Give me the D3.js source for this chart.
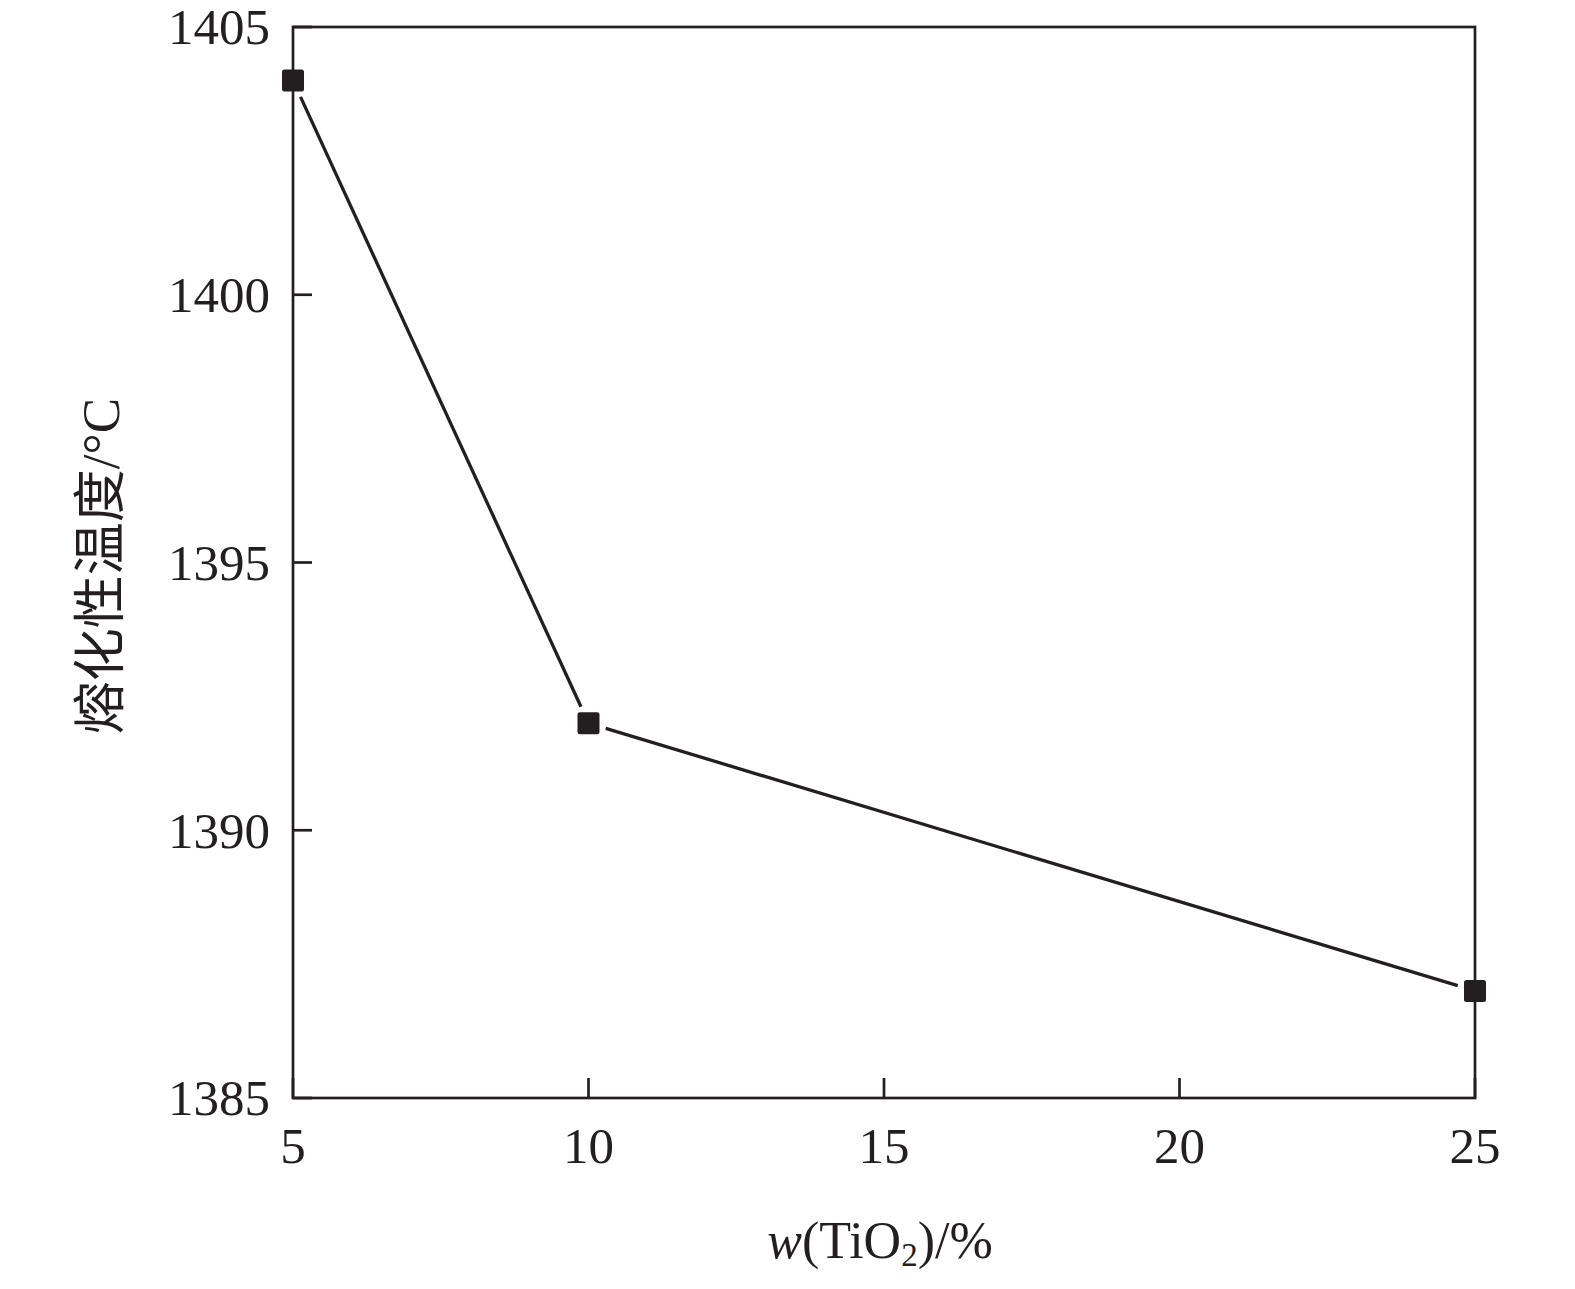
<!DOCTYPE html>
<html><head><meta charset="utf-8">
<script src="https://cdn.jsdelivr.net/npm/d3@7"></script>
<style>body{margin:0;background:#fff}</style>
</head><body>
<svg id="c" width="1575" height="1289"></svg>
<script>
const xValues = [5, 10, 25];
const yValues = [1404, 1392, 1387];
const xTicks = [5, 10, 15, 20, 25];
const yTicks = [1385, 1390, 1395, 1400, 1405];
const xTitleParts = ["w", "(TiO", "2", ")/%"];
const yTitle = "熔化性温度/°C";

const ink = "#231f20";
const L = 293, R = 1475, T = 27, B = 1098;
const svg = d3.select("#c");
const x = d3.scaleLinear().domain([5, 25]).range([L, R]);
const y = d3.scaleLinear().domain([1385, 1405]).range([B, T]);
const serif = "'Liberation Serif','Times New Roman',serif";

// ticks (inward)
svg.append("g").selectAll("line").data(xTicks).join("line")
  .attr("x1", d => x(d)).attr("x2", d => x(d)).attr("y1", B).attr("y2", B - 20)
  .attr("stroke", ink).attr("stroke-width", 2.7);
svg.append("g").selectAll("line").data(yTicks).join("line")
  .attr("y1", d => y(d)).attr("y2", d => y(d)).attr("x1", L).attr("x2", L + 19)
  .attr("stroke", ink).attr("stroke-width", 2.7);

// frame
svg.append("rect").attr("x", L).attr("y", T).attr("width", R - L).attr("height", B - T)
  .attr("fill", "none").attr("stroke", ink).attr("stroke-width", 2.7);

// tick labels
svg.append("g").selectAll("text").data(xTicks).join("text")
  .attr("x", d => x(d)).attr("y", 1163).attr("text-anchor", "middle")
  .attr("font-family", serif).attr("font-size", 51).attr("fill", ink).text(d => d);
svg.append("g").selectAll("text").data(yTicks).join("text")
  .attr("x", 270).attr("y", d => y(d)).attr("dy", "0.34em").attr("text-anchor", "end")
  .attr("font-family", serif).attr("font-size", 51).attr("fill", ink).text(d => d);

// line with gaps near markers
const pts = xValues.map((v, i) => [x(v), y(yValues[i])]);
const gap = 18;
const segs = d3.pairs(pts).map(([a, b]) => {
  const dx = b[0] - a[0], dy = b[1] - a[1], len = Math.hypot(dx, dy);
  const ux = dx / len, uy = dy / len;
  return [a[0] + ux * gap, a[1] + uy * gap, b[0] - ux * gap, b[1] - uy * gap];
});
svg.append("g").selectAll("line").data(segs).join("line")
  .attr("x1", d => d[0]).attr("y1", d => d[1]).attr("x2", d => d[2]).attr("y2", d => d[3])
  .attr("stroke", ink).attr("stroke-width", 3.3);

// markers
const ms = 22;
svg.append("g").selectAll("rect").data(pts).join("rect")
  .attr("x", d => d[0] - ms / 2).attr("y", d => d[1] - ms / 2)
  .attr("width", ms).attr("height", ms).attr("rx", 2.5).attr("fill", ink);

// x title
const xt = svg.append("text").attr("x", 880).attr("y", 1258).attr("text-anchor", "middle")
  .attr("font-family", serif).attr("font-size", 52).attr("fill", ink);
xt.append("tspan").attr("font-style", "italic").text(xTitleParts[0]);
xt.append("tspan").text(xTitleParts[1]);
xt.append("tspan").attr("font-size", 33).attr("dy", 8).text(xTitleParts[2]);
xt.append("tspan").attr("dy", -8).text(xTitleParts[3]);

// y title
svg.append("text").attr("transform", "translate(119,566) rotate(-90)")
  .attr("text-anchor", "middle").attr("font-family", "'Liberation Serif','Noto Sans CJK SC',serif")
  .attr("font-size", 53).attr("fill", ink).text(yTitle);
</script>
</body></html>
